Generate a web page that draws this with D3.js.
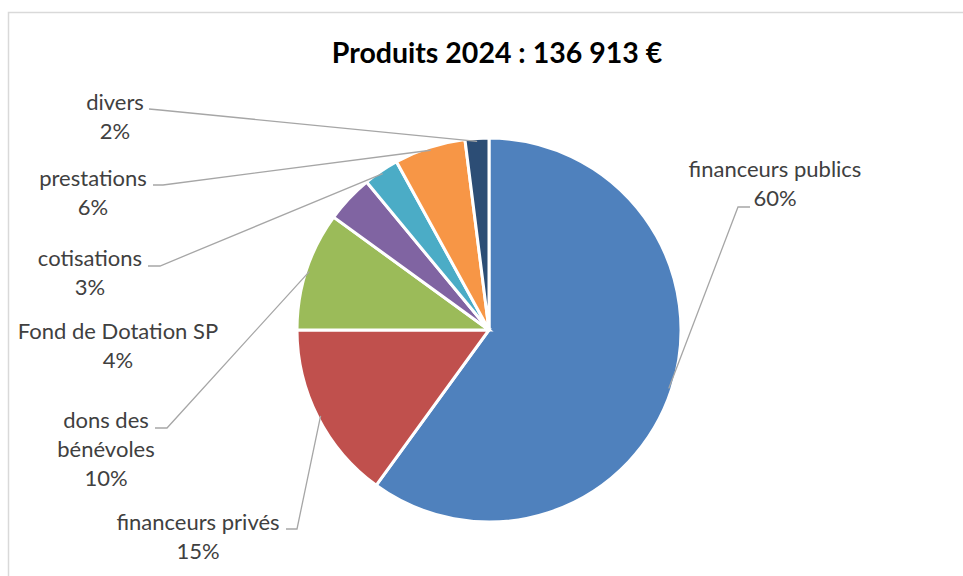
<!DOCTYPE html>
<html>
<head>
<meta charset="utf-8">
<script src="https://cdn.jsdelivr.net/npm/d3@7"></script>
<style>
  html, body { margin: 0; padding: 0; background: #ffffff; }
  svg { display: block; }
</style>
</head>
<body>
<svg id="chart" width="963" height="576"></svg>
<script>
// Sources of income, 2024 (share of total, %)
const categories = [
  "financeurs publics",
  "financeurs privés",
  "dons des bénévoles",
  "Fond de Dotation SP",
  "cotisations",
  "prestations",
  "divers"
];
const shares = [60, 15, 10, 4, 3, 6, 2];
const sliceColors = ["#4F81BD", "#C0504D", "#9BBB59", "#8064A2", "#4BACC6", "#F79646", "#2C4D75"];
const titleText = "Produits 2024 : 136 913 €";

// Label text lines (category may wrap) and placement of each label block
const labelLines = [
  ["financeurs publics"],
  ["financeurs privés"],
  ["dons des", "bénévoles"],
  ["Fond de Dotation SP"],
  ["cotisations"],
  ["prestations"],
  ["divers"]
];
const labelLayout = [
  { x: 775, y: 177, leader: [[750, 207], [738, 207]] },
  { x: 198, y: 530, leader: [[286, 529], [297, 529]] },
  { x: 106, y: 428, leader: [[155, 428], [167, 428]] },
  { x: 118, y: 339, leader: null },
  { x: 90,  y: 266, leader: [[148, 266], [160, 266]] },
  { x: 93,  y: 186, leader: [[153, 185], [163, 185]] },
  { x: 115, y: 110, leader: [[149, 109], [160, 110]] }
];

const W = 963, H = 576;
const cx = 489, cy = 330, R = 192;
const lineGap = 29;
const font = "Lato, 'Open Sans', sans-serif";

const svg = d3.select("#chart");

// chart area outline (top and left edges visible)
svg.append("path")
  .attr("d", `M8.5,${H} V12.5 H${W}`)
  .attr("fill", "none")
  .attr("stroke", "#d9d9d9")
  .attr("stroke-width", 1.5);

// title
svg.append("text")
  .attr("x", 497).attr("y", 63)
  .attr("text-anchor", "middle")
  .attr("font-family", font)
  .attr("font-weight", 700)
  .attr("font-size", 28.5)
  .attr("fill", "#000")
  .text(titleText);

const data = categories.map((c, i) => ({ name: c, value: shares[i], i }));

const pie = d3.pie().value(d => d.value).sort(null).startAngle(0).endAngle(2 * Math.PI);
const arcs = pie(data);

const arc = d3.arc().innerRadius(0).outerRadius(R);
const edgeArc = d3.arc().innerRadius(R - 3).outerRadius(R - 3);

const g = svg.append("g").attr("transform", `translate(${cx},${cy})`);

g.selectAll("path.slice")
  .data(arcs)
  .join("path")
  .attr("class", "slice")
  .attr("d", arc)
  .attr("fill", d => sliceColors[d.data.i])
  .attr("stroke", "#ffffff")
  .attr("stroke-width", 3)
  .attr("stroke-linejoin", "miter");

// leader lines from each slice's outer edge to its label
const line = d3.line();
svg.selectAll("path.leader")
  .data(arcs.filter(d => labelLayout[d.data.i].leader))
  .join("path")
  .attr("class", "leader")
  .attr("fill", "none")
  .attr("stroke", "#a6a6a6")
  .attr("stroke-width", 1.3)
  .attr("d", d => {
    const [ex, ey] = edgeArc.centroid(d);
    const pts = labelLayout[d.data.i].leader.slice();
    return line([...pts, [cx + ex, cy + ey]]);
  });

// data labels: category name then percentage
const labels = svg.selectAll("text.lbl")
  .data(arcs)
  .join("text")
  .attr("class", "lbl")
  .attr("text-anchor", "middle")
  .attr("font-family", font)
  .attr("font-size", 22)
  .attr("fill", "#404040");

labels.each(function(d) {
  const t = d3.select(this);
  const lay = labelLayout[d.data.i];
  const lines = labelLines[d.data.i].concat([d3.format(".0%")(d.data.value / 100)]);
  lines.forEach((s, k) => {
    t.append("tspan")
      .attr("x", lay.x)
      .attr("y", lay.y + k * lineGap)
      .text(s);
  });
});
</script>
</body>
</html>
